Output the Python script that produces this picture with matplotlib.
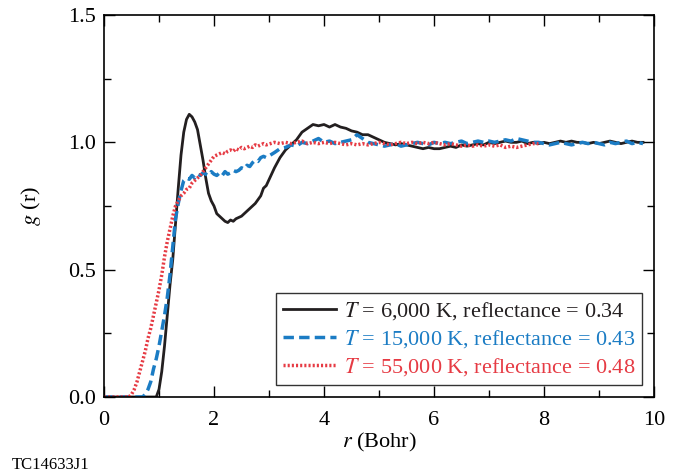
import numpy as np
import matplotlib
matplotlib.use('Agg')
from matplotlib import pyplot as plt
from matplotlib.ticker import MultipleLocator

plt.rcParams['font.family'] = ['Liberation Serif', 'DejaVu Serif']
plt.rcParams['mathtext.fontset'] = 'stix'

# radial grids (Bohr): fine steps below 3, coarse above
r_fine = [round(0.05 * i, 2) for i in range(60)]
r_coarse = [round(3.0 + 0.1 * i, 1) for i in range(1, 69)]

# T = 6,000 K
r_black = r_fine + r_coarse
g_black = [
    0, 0, 0, 0, 0, 0, 0, 0, 0, 0,
    0, 0, 0, 0, 0, 0, 0, 0, 0, 0.0,
    0.03, 0.10, 0.20, 0.32, 0.44, 0.54, 0.68, 0.82, 0.95, 1.04,
    1.09, 1.11, 1.10, 1.08, 1.05, 0.99, 0.93, 0.86, 0.80, 0.77,
    0.75, 0.72, 0.71, 0.70, 0.69, 0.685, 0.695, 0.69, 0.70, 0.705,
    0.71, 0.72, 0.73, 0.74, 0.75, 0.76, 0.775, 0.79, 0.82, 0.83,
    0.90, 0.94, 0.97, 0.99, 1.01, 1.04, 1.055, 1.07, 1.065, 1.07,
    1.06, 1.07, 1.06, 1.055, 1.045, 1.04, 1.03, 1.03, 1.02, 1.01,
    1.0, 0.995, 0.99, 0.995, 0.99, 0.985, 0.98, 0.975, 0.98, 0.975,
    0.975, 0.98, 0.985, 0.98, 0.99, 0.985, 0.99, 0.995, 0.99, 1.0,
    0.995, 1.0, 1.005, 1.0, 1.0, 1.005, 0.995, 1.0, 0.995, 1.0,
    0.995, 1.0, 1.005, 1.0, 1.005, 1.0, 1.0, 0.995, 1.0, 0.995,
    1.0, 1.005, 1.0, 0.995, 1.0, 1.005, 1.0, 1.0,
]

# T = 15,000 K
r_blue = r_fine + r_coarse
g_blue = [
    0, 0, 0, 0, 0, 0, 0, 0, 0, 0,
    0, 0, 0, 0, 0.0, 0.01, 0.03, 0.06, 0.11, 0.15,
    0.20, 0.26, 0.32, 0.39, 0.48, 0.59, 0.70, 0.76, 0.81, 0.85,
    0.86, 0.855, 0.87, 0.86, 0.875, 0.87, 0.88, 0.875, 0.87, 0.885,
    0.875, 0.87, 0.88, 0.87, 0.885, 0.875, 0.88, 0.89, 0.885, 0.89,
    0.90, 0.895, 0.91, 0.905, 0.92, 0.93, 0.925, 0.94, 0.945, 0.94,
    0.96, 0.975, 0.98, 0.99, 0.985, 1.0, 0.995, 1.005, 1.015, 1.0,
    1.005, 0.995, 1.0, 1.005, 1.01, 1.03, 1.015, 1.0, 0.995, 0.99,
    0.985, 0.99, 0.995, 0.985, 0.99, 0.995, 1.0, 0.995, 0.99, 1.0,
    0.995, 1.0, 0.995, 1.0, 1.005, 0.995, 1.0, 1.005, 1.0, 1.005,
    1.0, 1.005, 1.01, 1.005, 1.015, 1.01, 1.005, 1.0, 1.0, 0.995,
    0.99, 0.995, 1.0, 0.995, 0.99, 0.995, 1.0, 0.995, 1.0, 0.995,
    0.99, 1.0, 0.995, 1.0, 1.005, 0.995, 1.0, 0.995,
]

# T = 55,000 K (stops near 7.9 Bohr)
r_red = r_fine + r_coarse[:49]
g_red = [
    0, 0, 0, 0, 0, 0, 0, 0, 0, 0,
    0.01, 0.03, 0.06, 0.10, 0.14, 0.18, 0.23, 0.27, 0.32, 0.37,
    0.42, 0.48, 0.55, 0.61, 0.66, 0.71, 0.75, 0.77, 0.79, 0.80,
    0.815, 0.82, 0.84, 0.85, 0.86, 0.87, 0.885, 0.90, 0.915, 0.93,
    0.945, 0.95, 0.955, 0.96, 0.955, 0.965, 0.97, 0.965, 0.975, 0.97,
    0.98, 0.975, 0.98, 0.985, 0.98, 0.99, 0.985, 0.99, 0.995, 0.99,
    1.0, 0.995, 1.0, 0.995, 1.0, 1.005, 0.995, 1.0, 0.995, 1.0,
    0.995, 1.0, 0.995, 0.99, 0.995, 0.99, 0.995, 0.99, 0.995, 1.0,
    0.995, 0.99, 0.995, 1.0, 0.995, 1.0, 0.995, 1.0, 0.995, 1.0,
    0.995, 0.99, 0.995, 0.99, 0.985, 0.99, 0.985, 0.99, 0.985, 0.99,
    0.985, 0.99, 0.98, 0.985, 0.98, 0.985, 0.99, 0.995, 0.995,
]

labels = [
    r'$T$ = 6,000 K, reflectance = 0.34',
    r'$T$ = 15,000 K, reflectance = 0.43',
    r'$T$ = 55,000 K, reflectance = 0.48',
]
colors = ['#231f20', '#1b7cc4', '#e63b44']

fig = plt.figure(figsize=(6.78, 4.72), dpi=100)
ax = fig.add_axes([0.1534, 0.1589, 0.8112, 0.8093])

ax.plot(r_black, g_black, color=colors[0], lw=2.0, label=labels[0])
ax.plot(r_blue, g_blue, color=colors[1], lw=2.5, ls=(0, (3, 1.5)), label=labels[1])
ax.plot(r_red, g_red, color=colors[2], lw=2.5, ls=(0, (0.6, 0.6)), label=labels[2])

ax.set_xlim(0, 10)
ax.set_ylim(0, 1.5)
ax.xaxis.set_major_locator(MultipleLocator(2))
ax.xaxis.set_minor_locator(MultipleLocator(1))
ax.yaxis.set_major_locator(MultipleLocator(0.5))
ax.yaxis.set_minor_locator(MultipleLocator(0.25))
ax.yaxis.set_major_formatter(plt.FormatStrFormatter('%.1f'))
ax.tick_params(which='both', direction='in', top=True, right=True,
               labelsize=16, width=1.0)
ax.tick_params(which='major', length=8)
ax.tick_params(which='minor', length=5)
ax.tick_params(axis='x', which='major', pad=10)
ax.tick_params(axis='y', which='major', pad=6)
for s in ax.spines.values():
    s.set_linewidth(1.2)

ax.set_xlabel(r'$r$ (Bohr)', fontsize=16, labelpad=1)
ax.set_ylabel(r'$g$ (r)', fontsize=16, labelpad=18)

leg = ax.legend(loc='lower right', fontsize=16, frameon=True, fancybox=False,
                edgecolor='black', handlelength=2.4, handletextpad=0.35,
                borderpad=0.3, labelspacing=0.28, borderaxespad=0.55)
leg.get_frame().set_linewidth(1.0)
for txt, c in zip(leg.get_texts(), colors):
    txt.set_color(c)

fig.text(0.018, 0.032, 'TC14633J1', fontsize=12, va='top', ha='left')

fig.savefig('out.png', dpi=100)
